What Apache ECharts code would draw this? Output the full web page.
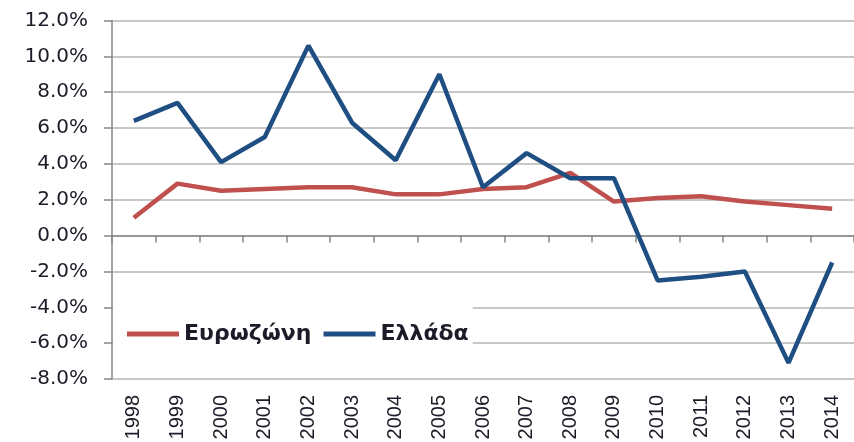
<!DOCTYPE html>
<html>
<head>
<meta charset="utf-8">
<script src="https://cdn.jsdelivr.net/npm/echarts@6/dist/echarts.min.js"></script>
<style>
html,body{margin:0;padding:0;background:#fff;}
#chart{width:854px;height:442px;}
</style>
</head>
<body>
<div id="chart"></div>
<script>
var years = ['1998','1999','2000','2001','2002','2003','2004','2005','2006','2007','2008','2009','2010','2011','2012','2013','2014'];
var eurozone = [1.0, 2.9, 2.5, 2.6, 2.7, 2.7, 2.3, 2.3, 2.6, 2.7, 3.5, 1.9, 2.1, 2.2, 1.9, 1.7, 1.5];
var greece = [6.4, 7.4, 4.1, 5.5, 10.6, 6.3, 4.2, 9.0, 2.7, 4.6, 3.2, 3.2, -2.5, -2.3, -2.0, -7.1, -1.5];
var seriesNames = ['Ευρωζώνη', 'Ελλάδα'];
var yMin = -8, yMax = 12, yStep = 2;

var chart = echarts.init(document.getElementById('chart'), null, {renderer: 'canvas'});
chart.setOption({
  animation: false,
  backgroundColor: '#ffffff',
  grid: {left: 112, right: 0, top: 20.5, bottom: 63, containLabel: false, outerBoundsMode: 'none'},
  legend: {
    data: seriesNames,
    left: 113, top: 296,
    orient: 'horizontal',
    backgroundColor: '#ffffff',
    padding: [27, 4, 12, 14],
    itemGap: 12,
    itemWidth: 52,
    itemHeight: 5,
    icon: 'rect',
    textStyle: {fontFamily: 'DejaVu Sans', fontWeight: 'bold', fontSize: 22, color: '#1c1c28', lineHeight: 22}
  },
  xAxis: {
    type: 'category',
    data: years,
    boundaryGap: true,
    axisLine: {show: true, onZero: true, lineStyle: {color: '#868686', width: 1.5}},
    axisTick: {show: true, length: 7, lineStyle: {color: '#868686', width: 1.5}},
    axisLabel: {rotate: 90, margin: 16, fontFamily: 'Liberation Sans', fontSize: 20, color: '#1c1c28'},
    splitLine: {show: false}
  },
  yAxis: {
    type: 'value',
    min: yMin, max: yMax, interval: yStep,
    axisLine: {show: true, lineStyle: {color: '#868686', width: 1.5}},
    axisTick: {show: true, length: 8, lineStyle: {color: '#868686', width: 1.5}},
    axisLabel: {margin: 24, fontFamily: 'DejaVu Sans', fontSize: 20, color: '#1c1c28',
      formatter: function (v) { return v.toFixed(1) + '%'; }},
    splitLine: {show: true, lineStyle: {color: '#c8c8c8', width: 2}}
  },
  series: [
    {name: seriesNames[0], type: 'line', data: eurozone, symbol: 'none', smooth: false,
     lineStyle: {color: '#c0504d', width: 4.5}, itemStyle: {color: '#c0504d'}},
    {name: seriesNames[1], type: 'line', data: greece, symbol: 'none', smooth: false,
     lineStyle: {color: '#1f4e82', width: 4.5}, itemStyle: {color: '#1f4e82'}}
  ]
});
</script>
</body>
</html>
